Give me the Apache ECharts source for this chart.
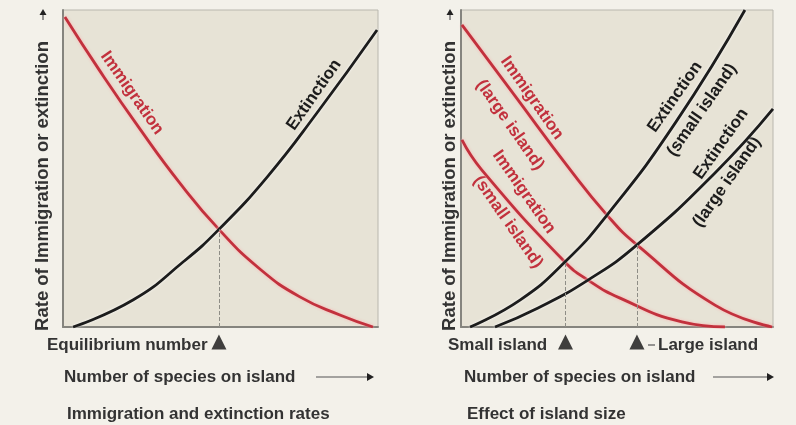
<!DOCTYPE html>
<html>
<head>
<meta charset="utf-8">
<script src="https://cdn.jsdelivr.net/npm/echarts@6/dist/echarts.min.js"></script>
<style>
  html, body { margin: 0; padding: 0; background: #f3f1ea; }
  #chart { width: 796px; height: 425px; }
</style>
</head>
<body>
<div id="chart"></div>
<script>
// left panel: [species, rate]
const immigration = [[0.6, 97.8], [11.7, 80.8], [24.4, 62.5], [37.1, 45.4], [49.5, 30.8], [62.5, 18.3], [75.2, 9.5], [87.9, 3.8], [98.4, 0]]
const extinction = [[3.2, 0], [22.2, 8.5], [38.1, 20.5], [49.5, 30.8], [64.8, 47.3], [80.6, 67.5], [99.7, 93.7]]
const equilibrium = [[49.5, 30.8]]

// right panel
const immLarge = [[0.3, 95.3], [17.3, 72.9], [34.3, 50.5], [46.8, 35.3], [56.4, 25.9], [81.4, 6.9], [99.7, 0]]
const immSmall = [[0.3, 59], [6.7, 49.5], [33.3, 20.5], [40.7, 14.8], [51, 9.1], [70.8, 1.6], [84.6, 0]]
const extSmall = [[2.9, 0], [18.9, 8.5], [33.3, 20.5], [46.8, 35.3], [68.9, 64.7], [91, 100]]
const extLarge = [[10.9, 0], [24.7, 6], [40.7, 14.8], [56.4, 25.9], [81.4, 48.6], [100, 68.8]]
const islandEquilibria = [[33.5, 20.5], [56.4, 25.9]]

const RED = '#c2313d'
const BLACK = '#1c1c1c'
const TEXT = '#333'
const FAMILY = '"Liberation Sans", Arial, sans-serif'

const chart = echarts.init(document.getElementById('chart'))

function axisPair(i) {
  const common = {
    type: 'value', gridIndex: i, min: 0, max: 100,
    axisLine: { show: true, lineStyle: { color: '#85847e', width: 2 } },
    axisTick: { show: false }, axisLabel: { show: false }, splitLine: { show: false }
  }
  return { x: Object.assign({}, common), y: Object.assign({}, common) }
}

function curve(data, color, idx) {
  return {
    type: 'line', data, xAxisIndex: idx, yAxisIndex: idx,
    smooth: 0.5, symbol: 'none', silent: true,
    lineStyle: {
      color, width: 2.8,
      shadowColor: color === RED ? 'rgba(255,170,170,0.9)' : 'rgba(255,255,255,0.8)',
      shadowBlur: 3
    }
  }
}

function markers(points, idx) {
  return {
    type: 'scatter', xAxisIndex: idx, yAxisIndex: idx, clip: false, silent: true, z: 5,
    data: points.map(p => [p[0], 0]),
    symbol: 'triangle', symbolSize: [15, 15], symbolOffset: [0, 15],
    itemStyle: { color: '#111' },
    markLine: {
      silent: true, symbol: ['none', 'none'], label: { show: false },
      lineStyle: { type: 'dashed', color: '#8e8d86', width: 1 },
      data: points.map(p => [{ coord: [p[0], 0] }, { coord: [p[0], p[1]] }])
    }
  }
}

function label(text, x, y, opts) {
  const o = opts || {}
  return {
    type: 'text', x, y, rotation: o.rot || 0, silent: true,
    style: {
      text, fill: o.color || TEXT, font: 'bold ' + (o.size || 17) + 'px ' + FAMILY,
      align: o.align || 'left', verticalAlign: 'middle'
    }
  }
}

function arrow(x1, x2, y) {
  return [
    { type: 'line', silent: true, shape: { x1, y1: y, x2: x2 - 4, y2: y }, style: { stroke: '#555', lineWidth: 1.2 } },
    { type: 'polygon', silent: true, shape: { points: [[x2 - 7, y - 4], [x2, y], [x2 - 7, y + 4]] }, style: { fill: '#222' } }
  ]
}

function upArrow(x, y) {
  return [
    { type: 'line', silent: true, shape: { x1: x, y1: y + 10, x2: x, y2: y + 3 }, style: { stroke: '#555', lineWidth: 1.2 } },
    { type: 'polygon', silent: true, shape: { points: [[x - 3.5, y + 5], [x, y - 1], [x + 3.5, y + 5]] }, style: { fill: '#222' } }
  ]
}

const a0 = axisPair(0)
const a1 = axisPair(1)
const gridStyle = { show: true, backgroundColor: '#e7e3d6', borderColor: '#b9b7ae', borderWidth: 1 }
const down = { rot: -0.96, color: RED, align: 'center' }
const up = { rot: 0.96, color: BLACK, align: 'center' }
const yTitle = { rot: Math.PI / 2, align: 'center', size: 18.5 }

chart.setOption({
  backgroundColor: '#f3f1ea',
  animation: false,
  grid: [
    Object.assign({ left: 63, top: 10, width: 315, height: 317 }, gridStyle),
    Object.assign({ left: 461, top: 10, width: 312, height: 317 }, gridStyle)
  ],
  xAxis: [a0.x, a1.x],
  yAxis: [a0.y, a1.y],
  series: [
    curve(immigration, RED, 0),
    curve(extinction, BLACK, 0),
    markers(equilibrium, 0),
    curve(immLarge, RED, 1),
    curve(immSmall, RED, 1),
    curve(extSmall, BLACK, 1),
    curve(extLarge, BLACK, 1),
    markers(islandEquilibria, 1)
  ],
  graphic: [
    // y titles
    label('Rate of Immigration or extinction', 43, 186, yTitle),
    label('Rate of Immigration or extinction', 450, 186, yTitle),
    ...upArrow(43, 10),
    ...upArrow(450, 10),
    // curve labels, left
    label('Immigration', 132, 93, down),
    label('Extinction', 314, 95, up),
    // curve labels, right
    label('Immigration', 532, 98, down),
    label('(large island)', 510, 125, down),
    label('Immigration', 524, 192, down),
    label('(small island)', 508, 222, down),
    label('Extinction', 675, 97, up),
    label('(small island)', 702, 110, up),
    label('Extinction', 721, 144, up),
    label('(large island)', 727, 182, up),
    // bottom texts
    label('Equilibrium number', 47, 345),
    label('Number of species on island', 64, 377),
    ...arrow(316, 374, 377),
    label('Immigration and extinction rates', 67, 414),
    label('Small island', 448, 345),
    { type: 'line', silent: true, shape: { x1: 648, y1: 345, x2: 655, y2: 345 }, style: { stroke: '#555', lineWidth: 1.2 } },
    label('Large island', 658, 345),
    label('Number of species on island', 464, 377),
    ...arrow(713, 774, 377),
    label('Effect of island size', 467, 414)
  ]
})
</script>
</body>
</html>
